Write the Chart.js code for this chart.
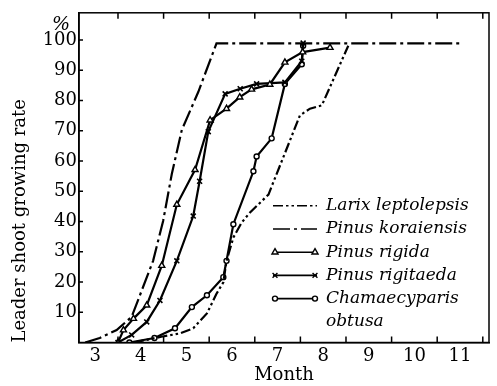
<!DOCTYPE html>
<html>
<head>
<meta charset="utf-8">
<script src="https://cdn.jsdelivr.net/npm/chart.js@4.4.1/dist/chart.umd.min.js"></script>
<style>
  html, body { margin: 0; padding: 0; background: #fff; }
</style>
</head>
<body>
<canvas id="myChartGrowth" width="497" height="386"></canvas>
<script>
// month (x) and leader shoot growing rate in % (y)
const larixMonths = [3.85, 4.45, 4.86, 5.15, 5.45, 5.66, 5.81, 5.88, 6.03, 6.21, 6.39, 6.8, 6.87, 7.14, 7.49, 7.71, 7.97, 8.55];
const larixRate   = [0, 1.9, 3.0, 4.7, 9.6, 16.1, 19.9, 27, 34.7, 39.6, 42.9, 48.9, 51.6, 61.8, 75.1, 77.3, 78.4, 98.1];

const koraiMonths = [2.78, 3.1, 3.47, 3.8, 4.27, 4.49, 4.68, 4.9, 5.26, 5.66, 11.0];
const koraiRate   = [0, 1.5, 4.1, 8.5, 27, 40.2, 55.7, 70.3, 82.8, 98.9, 98.9];

const rigidaMonths = [3.5, 3.62, 3.84, 4.13, 4.46, 4.79, 5.19, 5.52, 5.88, 6.17, 6.43, 6.83, 7.16, 7.55, 8.15];
const rigidaRate   = [0, 4.1, 7.9, 12.3, 25.4, 45.6, 57.1, 73.5, 77.3, 81.1, 83.7, 85.3, 92.6, 96, 97.5];

const rigitMonths = [3.5, 3.8, 4.13, 4.42, 4.79, 5.15, 5.29, 5.48, 5.85, 6.18, 6.54, 7.16, 7.53, 7.56];
const rigitRate   = [0, 2.5, 6.8, 13.9, 27, 41.8, 53.3, 69.7, 82.2, 83.9, 85.5, 86, 93, 99];

const chamaeMonths = [3.75, 4.3, 4.75, 5.12, 5.45, 5.81, 5.88, 6.03, 6.47, 6.54, 6.87, 7.16, 7.53, 7.56];
const chamaeRate   = [0, 1.5, 4.7, 11.7, 15.6, 21.6, 27, 39.1, 56.6, 61.5, 67.5, 85.5, 92, 98.1];

const seriesNames = ["Larix leptolepsis", "Pinus koraiensis", "Pinus rigida", "Pinus rigitaeda", "Chamaecyparis obtusa"];
const monthTicks = [3, 4, 5, 6, 7, 8, 9, 10, 11];
const rateTicks = [10, 20, 30, 40, 50, 60, 70, 80, 90, 100];

const serif = "'DejaVu Serif', 'Liberation Serif', serif";

function toPoints(xs, ys) {
  return xs.map((x, i) => ({ x: x, y: ys[i] }));
}

function drawMarker(ctx, style, x, y, r) {
  ctx.beginPath();
  if (style === "triangle") {
    ctx.moveTo(x, y - r);
    ctx.lineTo(x + r * 0.87, y + r * 0.5);
    ctx.lineTo(x - r * 0.87, y + r * 0.5);
    ctx.closePath();
    ctx.fill();
    ctx.stroke();
  } else if (style === "crossRot") {
    ctx.moveTo(x - r * 0.7, y - r * 0.7); ctx.lineTo(x + r * 0.7, y + r * 0.7);
    ctx.moveTo(x + r * 0.7, y - r * 0.7); ctx.lineTo(x - r * 0.7, y + r * 0.7);
    ctx.stroke();
  } else if (style === "circle") {
    ctx.arc(x, y, r, 0, Math.PI * 2);
    ctx.fill();
    ctx.stroke();
  }
}

// box, inward tick marks, "%" and the legend inside the plot
const frameAndLegend = {
  id: "frameAndLegend",
  afterDraw(chart) {
    const ctx = chart.ctx;
    const area = chart.chartArea;
    const xs = chart.scales.x;
    const ys = chart.scales.y;
    ctx.save();
    ctx.strokeStyle = "#000";
    ctx.lineWidth = 1.5;
    ctx.strokeRect(area.left, area.top, area.right - area.left, area.bottom - area.top);

    ctx.beginPath();
    for (const m of monthTicks) {
      const px = xs.getPixelForValue(m + 0.5);
      ctx.moveTo(px, area.bottom); ctx.lineTo(px, area.bottom - 6);
      ctx.moveTo(px, area.top); ctx.lineTo(px, area.top + 6);
    }
    for (const v of rateTicks) {
      const py = ys.getPixelForValue(v);
      ctx.moveTo(area.left, py); ctx.lineTo(area.left + 4, py);
    }
    ctx.stroke();

    ctx.fillStyle = "#000";
    ctx.font = "italic 19px " + serif;
    ctx.textAlign = "center";
    ctx.textBaseline = "middle";
    ctx.fillText("%", area.left - 18, area.top + 12);

    // legend
    const x0 = area.right - 216;
    const x1 = x0 + 44;
    const tx = x0 + 53;
    let y = area.top + 193;
    const rowH = 23.2;
    ctx.font = "italic 17px " + serif;
    ctx.textAlign = "left";
    chart.data.datasets.forEach((ds) => {
      ctx.save();
      ctx.strokeStyle = "#000";
      ctx.lineWidth = 1.6;
      ctx.setLineDash(ds.borderDash || []);
      ctx.beginPath();
      ctx.moveTo(x0, y); ctx.lineTo(x1, y);
      ctx.stroke();
      ctx.setLineDash([]);
      if (ds.pointRadius > 0) {
        ctx.fillStyle = "#fff";
        ctx.lineWidth = 1.4;
        drawMarker(ctx, ds.pointStyle, x0 + 2, y, ds.pointRadius);
        drawMarker(ctx, ds.pointStyle, x1 - 2, y, ds.pointRadius);
      }
      ctx.restore();
      // wrap long names onto a second line
      const lines = [];
      let cur = "";
      for (const w of ds.label.split(" ")) {
        const test = cur ? cur + " " + w : w;
        if (cur && ctx.measureText(test).width > area.right - tx) {
          lines.push(cur);
          cur = w;
        } else {
          cur = test;
        }
      }
      lines.push(cur);
      lines.forEach((ln) => {
        ctx.fillText(ln, tx, y);
        y += rowH;
      });
    });
    ctx.restore();
  }
};

const solidLine = { borderColor: "#000", borderWidth: 2.2, fill: false, tension: 0 };

const ctx = document.getElementById("myChartGrowth").getContext("2d");
const myChartGrowth = new Chart(ctx, {
  type: "line",
  data: {
    datasets: [
      Object.assign({}, solidLine, {
        label: seriesNames[0],
        data: toPoints(larixMonths, larixRate),
        borderDash: [10, 3, 2.5, 3, 2.5, 3],
        pointRadius: 0,
      }),
      Object.assign({}, solidLine, {
        label: seriesNames[1],
        data: toPoints(koraiMonths, koraiRate),
        borderDash: [17, 4, 3, 4],
        pointRadius: 0,
      }),
      Object.assign({}, solidLine, {
        label: seriesNames[2],
        data: toPoints(rigidaMonths, rigidaRate),
        pointStyle: "triangle",
        pointRadius: 3.5,
        pointBackgroundColor: "#fff",
        pointBorderColor: "#000",
        pointBorderWidth: 1.4,
      }),
      Object.assign({}, solidLine, {
        label: seriesNames[3],
        data: toPoints(rigitMonths, rigitRate),
        pointStyle: "crossRot",
        pointRadius: 3.5,
        pointBorderColor: "#000",
        pointBorderWidth: 1.6,
      }),
      Object.assign({}, solidLine, {
        label: seriesNames[4],
        data: toPoints(chamaeMonths, chamaeRate),
        pointStyle: "circle",
        pointRadius: 2.5,
        pointBackgroundColor: "#fff",
        pointBorderColor: "#000",
        pointBorderWidth: 1.4,
      }),
    ],
  },
  options: {
    responsive: false,
    animation: false,
    devicePixelRatio: 1,
    layout: { padding: { top: 10, right: 8, left: 0, bottom: 0 } },
    plugins: {
      legend: { display: false },
      tooltip: { enabled: false },
    },
    scales: {
      x: {
        type: "linear",
        min: 2.645,
        max: 11.636,
        afterBuildTicks: (s) => { s.ticks = monthTicks.map((v) => ({ value: v })); },
        afterFit: (s) => { s.height = 43.5; },
        grid: { display: false, drawTicks: false },
        border: { display: true, color: "#000", width: 1.5 },
        ticks: {
          color: "#000",
          font: { family: serif, size: 18 },
          padding: 3,
          maxRotation: 0,
          autoSkip: false,
        },
        title: {
          display: true,
          text: "Month",
          color: "#000",
          font: { family: serif, size: 18 },
          padding: { top: 0, bottom: 0 },
        },
      },
      y: {
        min: 0,
        max: 109,
        afterBuildTicks: (s) => { s.ticks = rateTicks.map((v) => ({ value: v })); },
        afterFit: (s) => { s.width = 79; },
        grid: { display: false, drawTicks: false },
        border: { display: true, color: "#000", width: 1.5 },
        ticks: {
          color: "#000",
          font: { family: serif, size: 18 },
          padding: 2,
        },
        title: {
          display: true,
          text: "Leader shoot growing rate",
          align: "start",
          color: "#000",
          font: { family: serif, size: 18 },
          padding: { top: 10, bottom: 0 },
        },
      },
    },
  },
  plugins: [frameAndLegend],
});
</script>
</body>
</html>
